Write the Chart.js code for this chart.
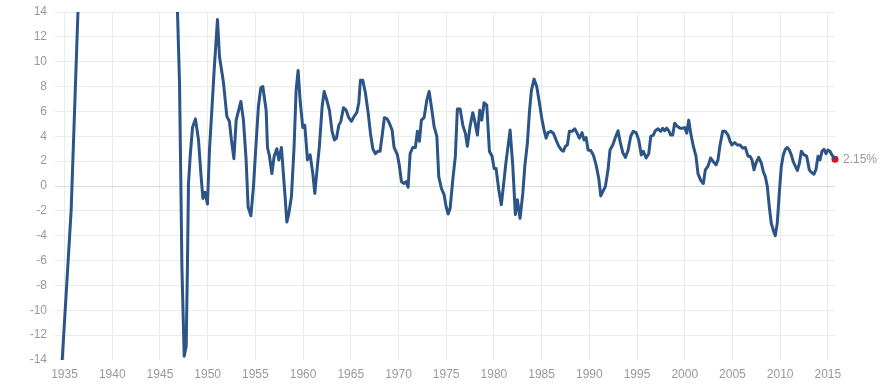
<!DOCTYPE html>
<html>
<head>
<meta charset="utf-8">
<script src="https://cdn.jsdelivr.net/npm/chart.js"></script>
<style>
  html, body { margin: 0; padding: 0; background: #fff; }
  #chart { display: block; }
</style>
</head>
<body>
<canvas id="chart" width="890" height="384"></canvas>
<script>
// year (decimal) and year-over-year growth in %
const years = [
    1934.0, 1935.69, 1937.0, 1946.75,
    1947.05, 1947.19, 1947.30, 1947.54, 1947.75, 1947.88, 1947.99, 1948.17, 1948.41, 1948.72, 1949.04, 1949.29, 1949.50, 1949.71, 1949.98,
    1950.19, 1950.44, 1950.68, 1951.03, 1951.24, 1951.66, 1952.01, 1952.28, 1952.49, 1952.75, 1952.99, 1953.48, 1953.75, 1954.03, 1954.24, 1954.53, 1954.80,
    1955.08, 1955.32, 1955.57, 1955.78, 1956.13, 1956.27, 1956.48, 1956.73, 1956.97, 1957.25, 1957.46, 1957.73, 1958.09, 1958.30, 1958.51, 1958.78, 1959.06, 1959.27, 1959.48, 1959.69, 1959.97,
    1960.18, 1960.46, 1960.74, 1961.02, 1961.23, 1961.50, 1961.71, 1962.00, 1962.21, 1962.49, 1962.76, 1963.04, 1963.29, 1963.50, 1963.75, 1963.96, 1964.23, 1964.51, 1964.79,
    1965.07, 1965.35, 1965.63, 1965.84, 1966.01, 1966.26, 1966.53, 1966.82, 1967.06, 1967.31, 1967.58, 1967.86, 1968.07, 1968.28, 1968.52, 1968.81, 1969.05, 1969.33, 1969.54, 1969.89,
    1970.10, 1970.31, 1970.59, 1970.80, 1971.01, 1971.22, 1971.50, 1971.77, 1971.98, 1972.19, 1972.40, 1972.68, 1972.97, 1973.21, 1973.45, 1973.73, 1974.02, 1974.22, 1974.50, 1974.78, 1974.99,
    1975.20, 1975.41, 1975.69, 1975.96, 1976.17, 1976.46, 1976.74, 1977.01, 1977.22, 1977.50, 1977.79, 1978.00, 1978.27, 1978.52, 1978.73, 1978.97, 1979.25, 1979.53, 1979.81,
    1980.02, 1980.23, 1980.51, 1980.78, 1980.99, 1981.28, 1981.70, 1981.98, 1982.25, 1982.46, 1982.74, 1983.03, 1983.24, 1983.51, 1983.72, 1983.93, 1984.21, 1984.49, 1984.77,
    1985.05, 1985.26, 1985.47, 1985.68, 1985.96, 1986.23, 1986.52, 1986.80, 1987.07, 1987.28, 1987.49, 1987.70, 1987.91, 1988.19, 1988.47, 1988.75, 1988.96, 1989.24, 1989.45, 1989.66, 1989.87,
    1990.15, 1990.42, 1990.71, 1990.99, 1991.20, 1991.41, 1991.68, 1991.96, 1992.17, 1992.46, 1992.73, 1993.01, 1993.22, 1993.50, 1993.78, 1994.06, 1994.34, 1994.61, 1994.90,
    1995.18, 1995.45, 1995.66, 1995.95, 1996.23, 1996.44, 1996.71, 1996.92, 1997.20, 1997.49, 1997.69, 1997.90, 1998.11, 1998.32, 1998.53, 1998.74, 1998.95, 1999.22, 1999.51, 1999.79,
    2000.00, 2000.21, 2000.42, 2000.63, 2000.90, 2001.18, 2001.39, 2001.68, 2001.95, 2002.16, 2002.44, 2002.72, 2003.00, 2003.28, 2003.49, 2003.70, 2003.98, 2004.25, 2004.54, 2004.75,
    2004.95, 2005.24, 2005.51, 2005.79, 2006.08, 2006.35, 2006.63, 2006.84, 2007.05, 2007.26, 2007.47, 2007.75, 2008.03, 2008.24, 2008.45, 2008.66, 2008.86, 2009.07, 2009.28, 2009.49, 2009.70, 2009.91,
    2010.12, 2010.33, 2010.54, 2010.75, 2010.96, 2011.17, 2011.38, 2011.59, 2011.80, 2012.01, 2012.22, 2012.50, 2012.78, 2013.06, 2013.27, 2013.55, 2013.76, 2013.97, 2014.18, 2014.39, 2014.60, 2014.81, 2015.01, 2015.22, 2015.43, 2015.75
];
const growth = [
    -23.7, -2.0, 27.3, 16.4,
    8.3, 0.25, -6.5, -13.7, -12.9, -6.5, 0.2, 2.4, 4.7, 5.4, 3.7, 1.0, -1.0, -0.5, -1.45,
    2.9, 6.1, 9.3, 13.4, 10.4, 8.3, 5.6, 5.2, 3.7, 2.2, 5.3, 6.8, 5.3, 2.1, -1.7, -2.4, -0.05,
    3.5, 6.4, 7.9, 8.0, 6.1, 3.1, 2.4, 1.0, 2.4, 3.0, 2.1, 3.1, -0.6, -2.9, -2.2, -0.85, 3.2, 7.7, 9.3, 6.9, 4.7,
    4.9, 2.1, 2.5, 1.0, -0.6, 1.6, 3.2, 6.4, 7.6, 6.9, 6.1, 4.4, 3.7, 3.85, 4.9, 5.2, 6.3, 6.1, 5.5,
    5.2, 5.6, 5.9, 6.7, 8.5, 8.5, 7.5, 5.9, 4.25, 3.0, 2.6, 2.8, 2.8, 4.0, 5.5, 5.4, 5.05, 4.5, 3.1, 2.5,
    1.6, 0.35, 0.2, 0.35, -0.1, 2.6, 3.1, 3.1, 4.4, 3.6, 5.3, 5.5, 6.9, 7.6, 6.4, 4.8, 4.0, 0.75, -0.2, -0.7, -1.65,
    -2.25, -1.8, 0.5, 2.4, 6.2, 6.2, 4.9, 4.25, 3.2, 4.8, 5.9, 5.2, 4.1, 6.1, 5.3, 6.7, 6.5, 2.8, 2.4,
    1.4, 1.4, -0.3, -1.5, -0.05, 2.0, 4.5, 1.6, -2.3, -1.1, -2.6, -0.6, 1.6, 3.45, 5.9, 7.7, 8.6, 8.0, 6.7,
    5.3, 4.5, 3.85, 4.3, 4.4, 4.25, 3.7, 3.2, 2.9, 2.8, 3.2, 3.3, 4.4, 4.4, 4.6, 4.2, 3.85, 4.3, 3.7, 3.9, 2.9,
    2.85, 2.5, 1.7, 0.6, -0.8, -0.45, -0.05, 1.3, 2.9, 3.3, 3.9, 4.45, 3.6, 2.7, 2.3, 2.85, 4.0, 4.4, 4.3,
    3.7, 2.5, 2.8, 2.25, 2.6, 4.0, 4.1, 4.45, 4.6, 4.4, 4.65, 4.45, 4.65, 4.45, 4.1, 4.1, 5.05, 4.8, 4.65, 4.65,
    4.7, 4.25, 5.3, 4.25, 3.2, 2.4, 1.0, 0.45, 0.2, 1.3, 1.6, 2.25, 1.95, 1.7, 2.1, 3.3, 4.4, 4.4, 4.1, 3.6,
    3.3, 3.5, 3.3, 3.3, 3.05, 3.1, 2.4, 2.4, 2.1, 1.3, 1.85, 2.3, 1.85, 1.15, 0.75, -0.05, -1.65, -3.0, -3.55, -4.0, -3.0, -0.6,
    1.55, 2.5, 2.95, 3.1, 2.9, 2.5, 1.95, 1.6, 1.25, 1.8, 2.8, 2.5, 2.4, 1.3, 1.1, 0.95, 1.35, 2.4, 2.1, 2.8, 2.95, 2.6, 2.9, 2.8, 2.5, 2.15
];
const yearTicks = [1935, 1940, 1945, 1950, 1955, 1960, 1965, 1970, 1975, 1980, 1985, 1990, 1995, 2000, 2005, 2010, 2015];

const lastYear = years[years.length - 1];
const lastValue = growth[growth.length - 1];

const FONT = 'Arial, "Liberation Sans", sans-serif';
const GRID = '#e6eee9';

// value label next to the last point
const endLabel = {
    id: 'endLabel',
    afterDatasetsDraw(chart) {
        const pt = chart.getDatasetMeta(1).data[0];
        if (!pt) return;
        const ctx = chart.ctx;
        ctx.save();
        ctx.font = '12px ' + FONT;
        ctx.fillStyle = '#999';
        ctx.textBaseline = 'middle';
        ctx.fillText(lastValue.toFixed(2) + '%', pt.x + 8, pt.y);
        ctx.restore();
    }
};

new Chart(document.getElementById('chart'), {
    type: 'line',
    data: {
        datasets: [
            {
                data: years.map((y, i) => ({ x: y, y: growth[i] })),
                borderColor: '#2c5487',
                borderWidth: 3,
                borderJoinStyle: 'round',
                pointRadius: 0,
                tension: 0,
                clip: 0
            },
            {
                data: [{ x: lastYear, y: lastValue }],
                pointRadius: 3.5,
                pointBackgroundColor: '#d3122e',
                pointBorderWidth: 0,
                showLine: false,
                clip: false
            }
        ]
    },
    options: {
        responsive: false,
        animation: false,
        devicePixelRatio: 1,
        layout: { padding: { top: 12, right: 55, bottom: 0, left: 0 } },
        plugins: { legend: { display: false }, tooltip: { enabled: false } },
        scales: {
            x: {
                type: 'linear',
                min: 1934,
                max: lastYear,
                afterBuildTicks: axis => { axis.ticks = yearTicks.map(v => ({ value: v })); },
                afterFit: axis => { axis.height = 24; },
                grid: { color: GRID, drawTicks: false },
                border: { display: false },
                ticks: {
                    color: '#999',
                    font: { family: FONT, size: 12 },
                    padding: 7,
                    maxRotation: 0,
                    autoSkip: false,
                    callback: v => String(v)
                }
            },
            y: {
                min: -14,
                max: 14,
                afterFit: axis => {
                    axis.width = 55;
                    axis.paddingTop = 0;
                    axis.paddingBottom = 0;
                },
                grid: {
                    color: c => c.tick.value === 0 ? '#d5ddd8' : (c.tick.value === -14 ? 'rgba(0,0,0,0)' : GRID),
                    drawTicks: false
                },
                border: { display: false },
                ticks: {
                    stepSize: 2,
                    color: '#999',
                    font: { family: FONT, size: 12 },
                    padding: 8
                }
            }
        }
    },
    plugins: [endLabel]
});
</script>
</body>
</html>
